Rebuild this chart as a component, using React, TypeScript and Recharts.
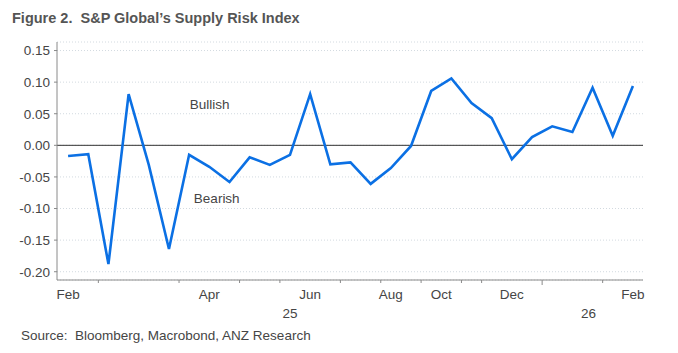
import React from "react";
import {
  CartesianGrid,
  Line,
  LineChart,
  ReferenceDot,
  ReferenceLine,
  XAxis,
  YAxis,
} from "recharts";

// S&P Global supply risk index, one point per release (29 releases)
const riskIndex = [
  -0.017, -0.014, -0.188, 0.081, -0.031, -0.164, -0.015, -0.034, -0.058, -0.019,
  -0.031, -0.015, 0.081, -0.03, -0.027, -0.061, -0.036, -0.001, 0.086, 0.106,
  0.067, 0.043, -0.022, 0.013, 0.03, 0.021, 0.091, 0.015, 0.094,
];

// month labels and where they sit on the release index
const monthLabels = ["Feb", "Apr", "Jun", "Aug", "Oct", "Dec", "Feb"];
const monthPositions = [0, 7, 12, 16, 18.5, 22, 28];

const yearLabels = ["25", "26"];
const yearPositions = [11, 25.8];

// month boundary tick marks
const monthBoundaries = [1.5, 5.5, 8.5, 10.5, 13.5, 15.5, 17.5, 19.5, 20.5, 26.5];
const yearBoundaries = [23.5];

const yTicks = [-0.2, -0.15, -0.1, -0.05, 0, 0.05, 0.1, 0.15];

const data = riskIndex.map((v, i) => ({ i, v }));

const FONT = "'Liberation Sans', Arial, Helvetica, sans-serif";
const TEXT = "#454545";

const xTicks = [
  ...monthPositions,
  ...yearPositions,
  ...monthBoundaries,
  ...yearBoundaries,
];

function XTick(props: any) {
  const { x, y, payload } = props;
  const val = payload.value;
  const m = monthPositions.indexOf(val);
  if (m >= 0) {
    return (
      <text x={x} y={y + 19} textAnchor="middle" fill={TEXT} fontSize={13.5} fontFamily={FONT}>
        {monthLabels[m]}
      </text>
    );
  }
  const yr = yearPositions.indexOf(val);
  if (yr >= 0) {
    return (
      <text x={x} y={y + 38} textAnchor="middle" fill={TEXT} fontSize={13.5} fontFamily={FONT}>
        {yearLabels[yr]}
      </text>
    );
  }
  const len = yearBoundaries.includes(val) ? 5 : 3;
  return <line x1={x} x2={x} y1={y} y2={y + len} stroke="#8a8a8a" strokeWidth={1} />;
}

export default function App() {
  return (
    <div
      style={{
        position: "absolute",
        left: 0,
        top: 0,
        width: 678,
        height: 353,
        background: "#fff",
        fontFamily: FONT,
      }}
    >
      <div
        style={{
          position: "absolute",
          left: 12,
          top: 9,
          fontSize: 14.5,
          fontWeight: "bold",
          color: "#555",
          whiteSpace: "pre",
          lineHeight: "18px",
        }}
      >
        {"Figure 2.  S&P Global\u2019s Supply Risk Index"}
      </div>
      <LineChart
        width={678}
        height={353}
        data={data}
        margin={{ top: 42, right: 35, bottom: 43, left: 0 }}
        style={{ position: "absolute", left: 0, top: 0 }}
      >
        <CartesianGrid
          vertical={false}
          stroke="#d3dae0"
          strokeDasharray="1 2"
        />
        <XAxis
          dataKey="i"
          type="number"
          domain={[-0.55, 28.5]}
          allowDataOverflow
          ticks={xTicks}
          interval={0}
          tick={<XTick />}
          tickLine={false}
          tickSize={0}
          tickMargin={0}
          height={30}
          stroke="#8a8a8a"
        />
        <YAxis
          type="number"
          domain={[-0.2131, 0.1635]}
          allowDataOverflow
          ticks={yTicks}
          interval={0}
          width={57}
          tickSize={3}
          tickMargin={4}
          stroke="#8a8a8a"
          tick={{ fill: TEXT, fontSize: 13.5, fontFamily: FONT }}
          tickFormatter={(v: number) => v.toFixed(2)}
        />
        <ReferenceLine y={0} stroke="#333" strokeWidth={1} />
        <ReferenceDot
          x={7.02}
          y={0.065}
          r={0}
          fill="none"
          stroke="none"
          label={{ value: "Bullish", position: "center", fill: TEXT, fontSize: 13.5, fontFamily: FONT }}
        />
        <ReferenceDot
          x={7.37}
          y={-0.083}
          r={0}
          fill="none"
          stroke="none"
          label={{ value: "Bearish", position: "center", fill: TEXT, fontSize: 13.5, fontFamily: FONT }}
        />
        <Line
          dataKey="v"
          stroke="#0b70e4"
          strokeWidth={2.6}
          dot={false}
          activeDot={false}
          isAnimationActive={false}
        />
      </LineChart>
      <div
        style={{
          position: "absolute",
          left: 21,
          top: 328,
          fontSize: 13.5,
          color: TEXT,
          lineHeight: "16px",
        }}
      >
        Source:&nbsp; Bloomberg, Macrobond, ANZ Research
      </div>
    </div>
  );
}
